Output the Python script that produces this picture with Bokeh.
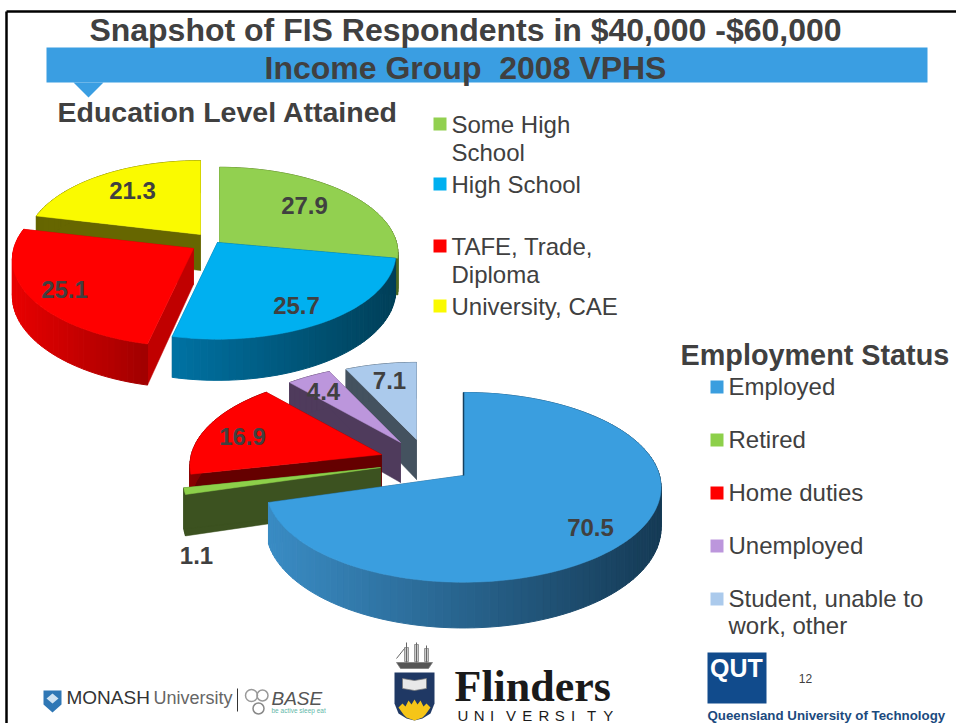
import math
from bokeh.plotting import figure
from bokeh.models import Range1d
from bokeh.core.properties import value
from bokeh.embed import file_html
from bokeh.resources import INLINE

# ---- data ----
title_lines = ["Snapshot of FIS Respondents in $40,000 -$60,000", "Income Group\u00a0\u00a02008 VPHS"]
edu_title = "Education Level Attained"
edu_categories = ["Some High School", "High School", "TAFE, Trade, Diploma", "University, CAE"]
edu_values = [27.9, 25.7, 25.1, 21.3]
emp_title = "Employment Status"
emp_categories = ["Employed", "Retired", "Home duties", "Unemployed", "Student, unable to work, other"]
emp_values = [70.5, 1.1, 16.9, 4.4, 7.1]

# ---- style / layout ----
INK = "#404040"
SANS = value("Liberation Sans")
K = 0.125
BASELINE_SHIFT = 0.36

edu_geom = dict(rx=177, ry=84.6, depth=36)
edu_style = [
    dict(apex=(219, 242), scale=1.0, top="#92D050", face="#4F6B20", wall=("#5A7A2A", "#4F6B20")),
    dict(apex=(217, 242), scale=1.0, top="#00B0F0", face="#004F6E", wall=("#0072A3", "#003F58")),
    dict(apex=(193, 248), scale=1.015, top="#FF0000", face="#C00000", wall=("#E80000", "#A00000")),
    dict(apex=(200, 234), scale=0.98, top="#FAFA00", face="#666600", wall=("#666600", "#666600")),
]
edu_order = [3, 0, 2, 1]

emp_geom = dict(rx=196, ry=93.4, depth=40)
emp_style = [
    dict(apex=(463, 475), scale=1.0, top="#3A9EDF", face="#17405F", wall=("#3A8CC4", "#153A55")),
    dict(apex=(380, 467), scale=1.0, top="#8DD04A", face="#3C5220", wall=("#3C5220", "#3C5220")),
    dict(apex=(381, 454), scale=0.97, top="#FF0000", face="#650000", wall=("#8A0000", "#650000")),
    dict(apex=(400, 442), scale=0.93, top="#BC96DC", face="#4F3B5C", wall=("#4F3B5C", "#4F3B5C")),
    dict(apex=(416, 439), scale=0.92, top="#ABCAEC", face="#44525F", wall=("#44525F", "#44525F")),
]
emp_order = [4, 3, 2, 1, 0]

p = figure(width=956, height=723, output_backend="svg", toolbar_location=None,
           x_range=Range1d(0, 956), y_range=Range1d(723, 0),
           min_border=0, outline_line_color=None, margin=(0, 0, 0, 0),
           x_axis_type=None, y_axis_type=None, background_fill_color="white",
           border_fill_color="white")
p.grid.visible = False


def hex2rgb(h):
    return [int(h[i:i + 2], 16) for i in (1, 3, 5)]


def mix(a, b, t):
    ca, cb = hex2rgb(a), hex2rgb(b)
    return "#%02x%02x%02x" % tuple(round(u + (v - u) * t) for u, v in zip(ca, cb))


def project(apex, theta, r, g, drop=False):
    t = math.radians(theta)
    X, Y = r * math.sin(t), r * math.cos(t)
    s = 1 / (1 + K * Y)
    x = apex[0] + g["rx"] * X * s
    y = apex[1] - g["ry"] * Y * s
    if drop:
        y += g["depth"] * s
    return x, y


def draw_pie(values, styles, order, g):
    total = sum(values)
    start = 0.0
    spans = []
    for v in values:
        spans.append((start, start + v / total * 360))
        start += v / total * 360
    for i in order:
        a0, a1 = spans[i]
        st = styles[i]
        ap, r = st["apex"], st["scale"]
        # radial faces
        for th in (a0, a1):
            o, od = project(ap, th, r, g), project(ap, th, r, g, True)
            apd = project(ap, 0, 0, g, True)
            p.patch([ap[0], o[0], od[0], apd[0]], [ap[1], o[1], od[1], apd[1]],
                    fill_color=st["face"], line_color=st["face"], line_width=0.5)
        # outer wall, shaded left to right
        n = max(2, int((a1 - a0) / 2))
        xs, ys, cols = [], [], []
        thetas = [a0 + (a1 - a0) * j / n for j in range(n + 1)]
        all_x = [project(ap, th, r, g)[0] for th in thetas]
        xl, xr = min(all_x), max(all_x)
        for j in range(n):
            q0, q1 = project(ap, thetas[j], r, g), project(ap, thetas[j + 1], r, g)
            d0, d1 = project(ap, thetas[j], r, g, True), project(ap, thetas[j + 1], r, g, True)
            xs.append([q0[0], q1[0], d1[0], d0[0]])
            ys.append([q0[1], q1[1], d1[1], d0[1]])
            t = (0.5 * (q0[0] + q1[0]) - xl) / max(xr - xl, 1)
            cols.append(mix(st["wall"][0], st["wall"][1], t))
        p.patches(xs, ys, fill_color=cols, line_color=cols, line_width=1)
        # top surface
        top = [project(ap, th, r, g) for th in thetas]
        p.patch([ap[0]] + [c[0] for c in top], [ap[1]] + [c[1] for c in top],
                fill_color=st["top"], line_color=st["top"], line_width=0.5)


def label(xs, ys, texts, size, bold=False, color=INK, align="left", font=SANS, style=None):
    fs = style or ("bold" if bold else "normal")
    px = float(size.replace("px", ""))
    p.text(x=[v - 1 for v in xs], y=[v - BASELINE_SHIFT * px for v in ys], text=texts, text_font=font,
           text_font_size=size, text_font_style=fs,
           text_color=color, text_align=align, text_baseline="alphabetic")


# slide frame
p.line([6, 6], [11, 723], line_color="black", line_width=2.5)
p.line([6, 956], [11, 11], line_color="black", line_width=2.5)

# banner
BANNER = "#3A9EE2"
p.quad(left=[46], right=[927], top=[47], bottom=[82], fill_color=BANNER, line_color=None)
p.patch([73, 103, 88], [82, 82, 97], fill_color=BANNER, line_color=None)

label([466], [41], [title_lines[0]], "32px", bold=True, align="center")
label([466], [79], [title_lines[1]], "32px", bold=True, align="center")
label([58], [122], [edu_title], "28.5px", bold=True)
label([681], [365], [emp_title], "28.8px", bold=True)

# pies
draw_pie(edu_values, edu_style, edu_order, edu_geom)
draw_pie(emp_values, emp_style, emp_order, emp_geom)
# edge-on first face of the large slice
_ap = emp_style[0]["apex"]
_tp = project(_ap, 0, 1, emp_geom)
p.line([_tp[0], _ap[0]], [_tp[1], _ap[1]], line_color="#17405F", line_width=1.5)

# data labels
label([133, 305, 297, 65], [199, 214, 314, 298],
      [f"{v}" for v in (edu_values[3], edu_values[0], edu_values[1], edu_values[2])],
      "24px", bold=True, align="center")
label([591, 197, 243, 324, 390], [536, 564, 445, 400, 389],
      [f"{v}" for v in (emp_values[0], emp_values[1], emp_values[2], emp_values[3], emp_values[4])],
      "24px", bold=True, align="center")

# education legend
edu_rows = [["Some High", "School"], ["High School"], ["TAFE, Trade,", "Diploma"], ["University, CAE"]]
edu_base = [133, 193, 255, 315]
for row, b, st in zip(edu_rows, edu_base, edu_style):
    p.quad(left=[433], right=[446], top=[b - 16], bottom=[b - 3], fill_color=st["top"], line_color=None)
    label([452] * len(row), [b + 27.5 * j for j in range(len(row))], row, "24px")

# employment legend
emp_rows = [["Employed"], ["Retired"], ["Home duties"], ["Unemployed"], ["Student, unable to", "work, other"]]
emp_base = [395, 448, 501, 554, 607]
for row, b, st in zip(emp_rows, emp_base, emp_style):
    p.quad(left=[710], right=[723], top=[b - 15], bottom=[b - 2], fill_color=st["top"], line_color=None)
    label([729] * len(row), [b + 27 * j for j in range(len(row))], row, "24px")

# Monash logo
p.patch([43, 61, 61, 52, 43], [690, 690, 704, 712, 704], fill_color="#2F77B5", line_color=None)
p.patch([46, 52, 58, 52], [698, 693, 698, 703], fill_color="#CFE2F2", line_color=None)
label([67], [704], ["MONASH"], "19px", color="#333333")
label([154], [704], ["University"], "18px", color="#666666")
p.line([237, 237], [688, 711], line_color="#333333", line_width=1)
p.scatter([251, 262], [695, 695], size=[12, 11], marker="circle", fill_color=None, line_color="#999999", line_width=1.5)
p.scatter([258], [708], size=[11], marker="circle", fill_color=None, line_color="#888888", line_width=1.5)
label([272], [705], ["BASE"], "19px", color="#555555", style="italic")
label([272], [712], ["be active sleep eat"], "6.5px", color="#5FB8A8")

# Flinders logo
p.patches([[396, 432, 428, 400], [404, 408, 408, 404], [414, 418, 418, 414], [424, 428, 428, 424]],
          [[662, 662, 668, 668], [647, 647, 661, 661], [644, 644, 661, 661], [648, 648, 661, 661]],
          fill_color=["#555555", "#C9C9C9", "#C9C9C9", "#C9C9C9"], line_color="#777777", line_width=0.7)
p.segment([406, 416, 426, 396], [642, 642, 645, 658], [406, 416, 426, 404], [662, 662, 662, 648],
          line_color="#666666", line_width=1)
p.patch([394, 434, 434, 430, 422, 414, 406, 398, 394], [672, 672, 703, 713, 718, 720, 718, 713, 703],
        fill_color="#1F3864", line_color=None)
p.patch([402, 414, 426, 426, 414, 402], [678, 680, 678, 688, 690, 688], fill_color="#E8E8E8", line_color="#777777", line_width=0.7)
p.patch([398, 402, 405, 408, 411, 414, 417, 420, 423, 426, 430, 425, 422, 414, 406, 403],
        [707, 703, 706, 700, 704, 699, 704, 700, 706, 703, 707, 714, 717, 720, 717, 714],
        fill_color="#F5C518", line_color=None)
label([455], [702], ["Flinders"], "44px", bold=True, color="#1A1A1A", font=value("Liberation Serif"))
label([458 + i * 16.2 for i in range(10)], [720.5] * 10, list("UNIVERSITY"), "15px", color="#1A1A1A")

# QUT logo
p.quad(left=[707], right=[766], top=[652], bottom=[703], fill_color="#114B8C", line_color=None)
label([737], [676], ["QUT"], "25px", bold=True, color="white", align="center")
label([806], [682], ["12"], "12px", align="center")
label([708], [719.5], ["Queensland University of Technology"], "13.3px", bold=True, color="#1B4A7E")

html = file_html(p, INLINE)
open("out.html", "w").write(html)
